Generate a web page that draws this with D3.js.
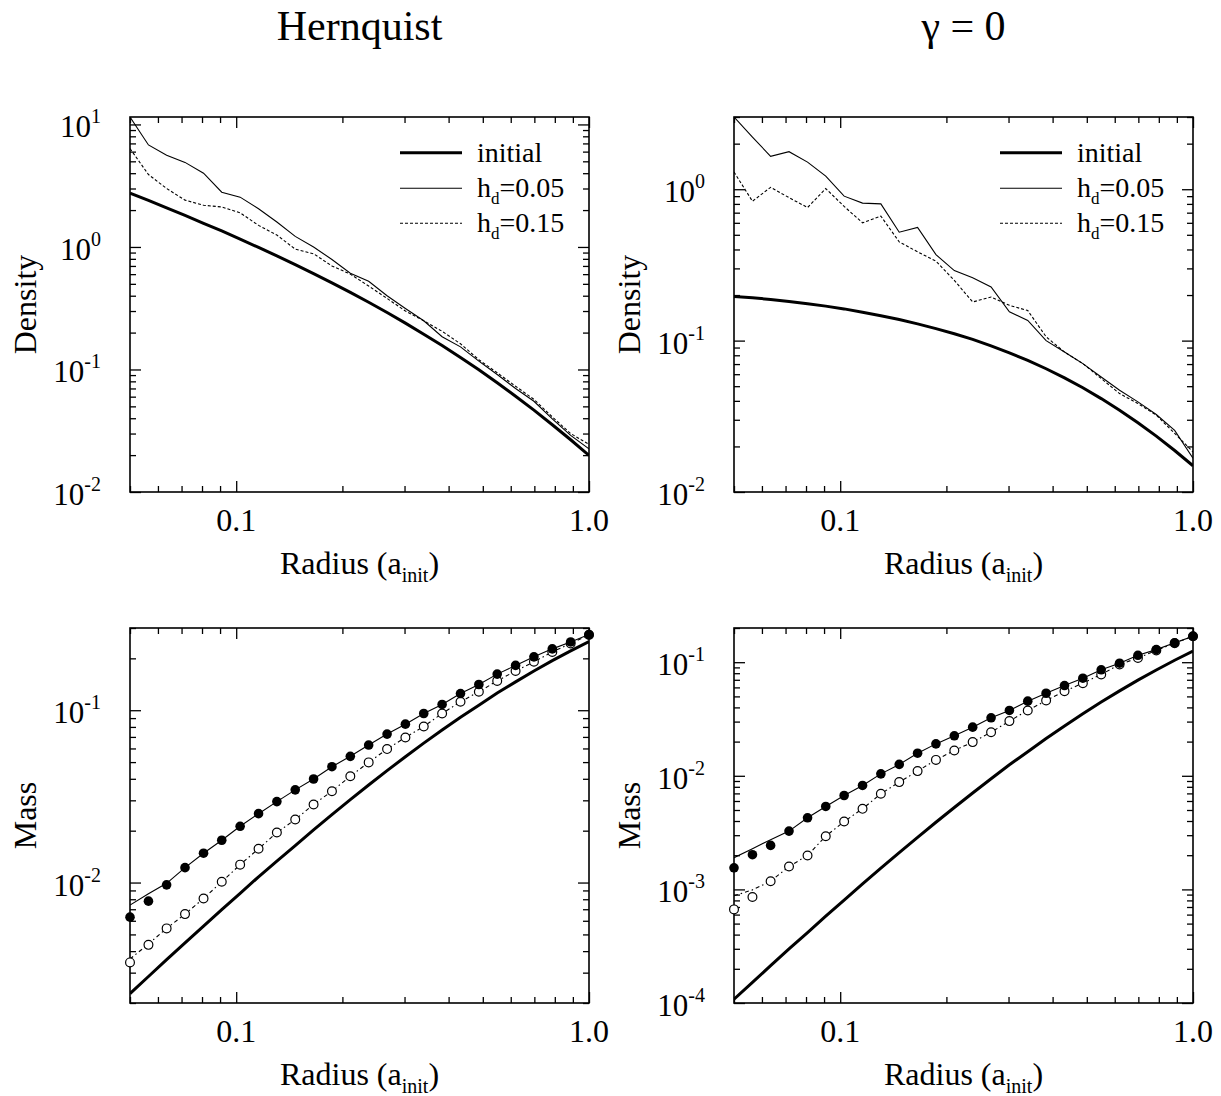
<!DOCTYPE html>
<html>
<head>
<meta charset="utf-8">
<script src="https://cdn.jsdelivr.net/npm/d3@7/dist/d3.min.js"></script>
<style>
  body { margin: 0; background: #fff; }
  svg { display: block; }
  text { font-family: "Liberation Serif", "Times New Roman", serif; fill: #000; }
</style>
</head>
<body>
<svg id="chart" width="1221" height="1096"></svg>
<script>
// shell radii, in units of a_init (same bins for every curve)
var radii = [0.05, 0.0564, 0.0635, 0.0716, 0.0808, 0.0910, 0.1026, 0.1157, 0.1304, 0.1470,
	0.1657, 0.1868, 0.2106, 0.2374, 0.2677, 0.3017, 0.3401, 0.3834, 0.4323, 0.4873,
	0.5493, 0.6193, 0.6981, 0.7870, 0.8872, 1.0];

// Hernquist, density
var hernDensInit = [2.75, 2.40, 2.08, 1.81, 1.56, 1.35, 1.16, 0.991, 0.845, 0.718,
	0.606, 0.510, 0.426, 0.354, 0.292, 0.239, 0.194, 0.157, 0.125, 0.0993,
	0.0779, 0.0605, 0.0466, 0.0354, 0.0267, 0.0199];
var hernDensH05 = [11.5, 6.8, 5.6, 4.9, 4.0, 2.8, 2.55, 2.05, 1.6, 1.22,
	1.0, 0.79, 0.61, 0.525, 0.40, 0.315, 0.25, 0.185, 0.153, 0.117,
	0.091, 0.070, 0.055, 0.0395, 0.029, 0.0225];
var hernDensH15 = [6.35, 3.9, 3.0, 2.41, 2.19, 2.12, 1.9, 1.5, 1.25, 0.96,
	0.88, 0.70, 0.60, 0.48, 0.38, 0.30, 0.25, 0.205, 0.162, 0.12,
	0.094, 0.073, 0.057, 0.041, 0.030, 0.0245];

// gamma = 0, density
var g0DensInit = [0.196, 0.192, 0.187, 0.181, 0.175, 0.169, 0.162, 0.154, 0.146, 0.138,
	0.129, 0.120, 0.111, 0.102, 0.0924, 0.0831, 0.0740, 0.0652, 0.0567, 0.0488,
	0.0414, 0.0347, 0.0287, 0.0234, 0.0188, 0.0149];
var g0DensH05 = [3.0, 2.21, 1.65, 1.77, 1.51, 1.22, 0.90, 0.81, 0.80, 0.52,
	0.56, 0.37, 0.29, 0.26, 0.226, 0.155, 0.136, 0.100, 0.084, 0.0705,
	0.0575, 0.047, 0.0394, 0.0325, 0.0255, 0.0167];
var g0DensH15 = [1.30, 0.833, 1.03, 0.88, 0.757, 1.01, 0.77, 0.60, 0.664, 0.449,
	0.386, 0.335, 0.25, 0.18, 0.194, 0.171, 0.158, 0.106, 0.084, 0.0705,
	0.0562, 0.0447, 0.0384, 0.0322, 0.0244, 0.0184];

// Hernquist, enclosed mass
var hernMassInit = [0.00227, 0.00285, 0.00357, 0.00447, 0.00558, 0.00696, 0.00866, 0.0108, 0.0133, 0.0164,
	0.0202, 0.0248, 0.0303, 0.0368, 0.0446, 0.0537, 0.0644, 0.0768, 0.0911, 0.107,
	0.126, 0.146, 0.169, 0.194, 0.221, 0.250];
var hernMassH05Line = [0.0074, 0.0086, 0.0099, 0.0122, 0.0148, 0.0176, 0.0212, 0.0251, 0.0295, 0.0345,
	0.0399, 0.047, 0.054, 0.0628, 0.0727, 0.083, 0.0957, 0.108, 0.125, 0.141,
	0.162, 0.182, 0.204, 0.227, 0.249, 0.275];
var hernMassH05Pts = [0.0063, 0.0078, 0.0097, 0.0122, 0.0148, 0.0176, 0.0212, 0.0251, 0.0295, 0.0345,
	0.0399, 0.047, 0.054, 0.0628, 0.0727, 0.083, 0.0957, 0.108, 0.125, 0.141,
	0.162, 0.182, 0.204, 0.227, 0.249, 0.275];
var hernMassH15Line = [0.0036, 0.0044, 0.00542, 0.00656, 0.00808, 0.0101, 0.0127, 0.0157, 0.0195, 0.0232,
	0.0284, 0.0339, 0.0414, 0.0498, 0.0595, 0.0695, 0.0805, 0.0957, 0.112, 0.128,
	0.148, 0.169, 0.191, 0.218, 0.244, 0.273];
var hernMassH15Pts = [0.00344, 0.00435, 0.00542, 0.00656, 0.00808, 0.0101, 0.0127, 0.0157, 0.0195, 0.0232,
	0.0284, 0.0339, 0.0414, 0.0498, 0.0595, 0.0695, 0.0805, 0.0957, 0.112, 0.128,
	0.148, 0.169, 0.191, 0.218, 0.244, 0.273];

// gamma = 0, enclosed mass
var g0MassInit = [0.000108, 0.000152, 0.000213, 0.000299, 0.000417, 0.000581, 0.000806, 0.00112, 0.00154, 0.00211,
	0.00287, 0.00390, 0.00526, 0.00706, 0.00942, 0.0125, 0.0163, 0.0213, 0.0275, 0.0352,
	0.0446, 0.0559, 0.0695, 0.0854, 0.104, 0.125];
var g0MassH05Line = [0.0019, 0.00228, 0.00274, 0.00326, 0.00427, 0.00537, 0.00671, 0.00822, 0.0104, 0.0126,
	0.0158, 0.0191, 0.0225, 0.0268, 0.0324, 0.0376, 0.0454, 0.0533, 0.0623, 0.0723,
	0.0857, 0.098, 0.115, 0.129, 0.148, 0.169];
var g0MassH05Pts = [0.00155, 0.00202, 0.00244, 0.00326, 0.00427, 0.00537, 0.00671, 0.00822, 0.0104, 0.0126,
	0.0158, 0.0191, 0.0225, 0.0268, 0.0324, 0.0376, 0.0454, 0.0533, 0.0623, 0.0723,
	0.0857, 0.098, 0.115, 0.129, 0.148, 0.169];
var g0MassH15Line = [0.00088, 0.00099, 0.00118, 0.00159, 0.00199, 0.00294, 0.00396, 0.00512, 0.00695, 0.0088,
	0.011, 0.0138, 0.0167, 0.0198, 0.0242, 0.0303, 0.0376, 0.046, 0.0556, 0.0653,
	0.078, 0.0954, 0.109, 0.127, 0.147, 0.169];
var g0MassH15Pts = [0.000667, 0.000857, 0.00118, 0.00159, 0.00199, 0.00294, 0.00396, 0.00512, 0.00695, 0.0088,
	0.011, 0.0138, 0.0167, 0.0198, 0.0242, 0.0303, 0.0376, 0.046, 0.0556, 0.0653,
	0.078, 0.0954, 0.109, 0.127, 0.147, 0.169];

var titles = ["Hernquist", "\u03b3 = 0"];
var xTickLabels = [{v: 0.1, t: "0.1"}, {v: 1.0, t: "1.0"}];
var legendLabels = [{main: "initial", sub: "", rest: ""}, {main: "h", sub: "d", rest: "=0.05"}, {main: "h", sub: "d", rest: "=0.15"}];

var W = 459, H = 375;
var svg = d3.select("#chart");

var panels = [
	{x0: 130, y0: 117, yLabel: "Density", yDomain: [0.01, 11.5], init: hernDensInit, h05: hernDensH05, h15: hernDensH15, legend: true},
	{x0: 734, y0: 117, yLabel: "Density", yDomain: [0.01, 3], init: g0DensInit, h05: g0DensH05, h15: g0DensH15, legend: true},
	{x0: 130, y0: 628, yLabel: "Mass", yDomain: [0.002, 0.3], init: hernMassInit, h05: hernMassH05Line, h15: hernMassH15Line,
		p05: hernMassH05Pts, p15: hernMassH15Pts},
	{x0: 734, y0: 628, yLabel: "Mass", yDomain: [0.0001, 0.2], init: g0MassInit, h05: g0MassH05Line, h15: g0MassH15Line,
		p05: g0MassH05Pts, p15: g0MassH15Pts}
];

// titles over each column
svg.append("text").attr("x", 130 + W / 2).attr("y", 40).attr("text-anchor", "middle")
	.style("font-size", "42px").text(titles[0]);
svg.append("text").attr("x", 734 + W / 2).attr("y", 40).attr("text-anchor", "middle")
	.style("font-size", "42px").text(titles[1]);

// major / minor log ticks inside a domain
function logTicks(domain) {
	var major = [], minor = [];
	var lo = Math.floor(Math.log10(domain[0]) + 1e-9), hi = Math.ceil(Math.log10(domain[1]));
	for (var d = lo; d <= hi; d++) {
		for (var k = 1; k < 10; k++) {
			var v = k * Math.pow(10, d);
			if (v < domain[0] * 0.999 || v > domain[1] * 1.001) continue;
			if (k === 1) major.push(v); else minor.push(v);
		}
	}
	return {major: major, minor: minor};
}

panels.forEach(function(p, idx) {
	var g = svg.append("g").attr("transform", "translate(" + p.x0 + "," + p.y0 + ")");
	var x = d3.scaleLog().domain([0.05, 1]).range([0, W]);
	var y = d3.scaleLog().domain(p.yDomain).range([H, 0]);

	var clipId = "clip" + idx;
	g.append("clipPath").attr("id", clipId).append("rect")
		.attr("x", 0).attr("y", 0).attr("width", W).attr("height", H);

	// ticks on all four sides, pointing inward
	var xt = logTicks([0.05, 1]), yt = logTicks(p.yDomain);
	function tickAxis(axisFn, scale, vals, size, transform) {
		var a = g.append("g").attr("transform", transform)
			.call(axisFn(scale).tickValues(vals).tickSize(size).tickFormat(""));
		a.select(".domain").remove();
		a.selectAll("line").attr("stroke", "#000").attr("stroke-width", 1.3);
	}
	tickAxis(d3.axisBottom, x, xt.major, -11, "translate(0," + H + ")");
	tickAxis(d3.axisBottom, x, xt.minor, -6, "translate(0," + H + ")");
	tickAxis(d3.axisTop, x, xt.major, -11, "translate(0,0)");
	tickAxis(d3.axisTop, x, xt.minor, -6, "translate(0,0)");
	tickAxis(d3.axisLeft, y, yt.major, -11, "translate(0,0)");
	tickAxis(d3.axisLeft, y, yt.minor, -6, "translate(0,0)");
	tickAxis(d3.axisRight, y, yt.major, -11, "translate(" + W + ",0)");
	tickAxis(d3.axisRight, y, yt.minor, -6, "translate(" + W + ",0)");

	// frame
	g.append("rect").attr("width", W).attr("height", H)
		.attr("fill", "none").attr("stroke", "#000").attr("stroke-width", 1.6);

	// x tick labels
	xTickLabels.forEach(function(t) {
		g.append("text").attr("x", x(t.v)).attr("y", H + 39).attr("text-anchor", "middle")
			.style("font-size", "32px").text(t.t);
	});
	// y tick labels as powers of ten
	yt.major.forEach(function(v) {
		var e = Math.round(Math.log10(v));
		var t = g.append("text").attr("x", -29).attr("y", y(v) + 13).attr("text-anchor", "end")
			.style("font-size", "31px");
		t.append("tspan").text("10");
		t.append("tspan").attr("dy", -14).style("font-size", "20px").text(e);
	});

	// axis titles
	var xl = g.append("text").attr("x", W / 2).attr("y", H + 82).attr("text-anchor", "middle")
		.style("font-size", "32px");
	xl.append("tspan").text("Radius (a");
	xl.append("tspan").attr("dy", 8).style("font-size", "20px").text("init");
	xl.append("tspan").attr("dy", -8).text(")");
	g.append("text").attr("transform", "translate(-94," + (H / 2) + ") rotate(-90)")
		.attr("text-anchor", "middle").style("font-size", "32px").text(p.yLabel);

	// curves
	var plot = g.append("g").attr("clip-path", "url(#" + clipId + ")");
	function curve(vals, width, dash) {
		var line = d3.line()
			.x(function(d, i) { return x(radii[i]); })
			.y(function(d) { return y(d); });
		plot.append("path").datum(vals).attr("d", line)
			.attr("fill", "none").attr("stroke", "#000")
			.attr("stroke-width", width)
			.attr("stroke-dasharray", dash || null);
	}
	var dash15 = p.p15 ? "4,3,1.5,3" : "3,2";
	curve(p.h15, 1.1, dash15);
	curve(p.h05, 1.1);
	curve(p.init, 3);

	// symbols for the mass profiles
	if (p.p05) {
		g.append("g").selectAll("circle").data(p.p15).enter().append("circle")
			.attr("cx", function(d, i) { return x(radii[i]); })
			.attr("cy", function(d) { return y(d); })
			.attr("r", 4.4).attr("fill", "#fff").attr("stroke", "#000").attr("stroke-width", 1.2);
		g.append("g").selectAll("circle").data(p.p05).enter().append("circle")
			.attr("cx", function(d, i) { return x(radii[i]); })
			.attr("cy", function(d) { return y(d); })
			.attr("r", 4.8).attr("fill", "#000");
	}

	// legend
	if (p.legend) {
		var lx = idx === 0 ? 270 : 266;
		var rows = [35.7, 71.3, 106.3];
		var widths = [3, 1.1, 1.1];
		var dashes = [null, null, "3,2"];
		legendLabels.forEach(function(l, k) {
			g.append("line").attr("x1", lx).attr("x2", lx + 62)
				.attr("y1", rows[k]).attr("y2", rows[k])
				.attr("stroke", "#000").attr("stroke-width", widths[k])
				.attr("stroke-dasharray", dashes[k]);
			var t = g.append("text").attr("x", lx + 77).attr("y", rows[k] + 9)
				.style("font-size", "28px");
			t.append("tspan").text(l.main);
			if (l.sub) {
				t.append("tspan").attr("dy", 7).style("font-size", "17px").text(l.sub);
				t.append("tspan").attr("dy", -7).text(l.rest);
			}
		});
	}
});
</script>
</body>
</html>
